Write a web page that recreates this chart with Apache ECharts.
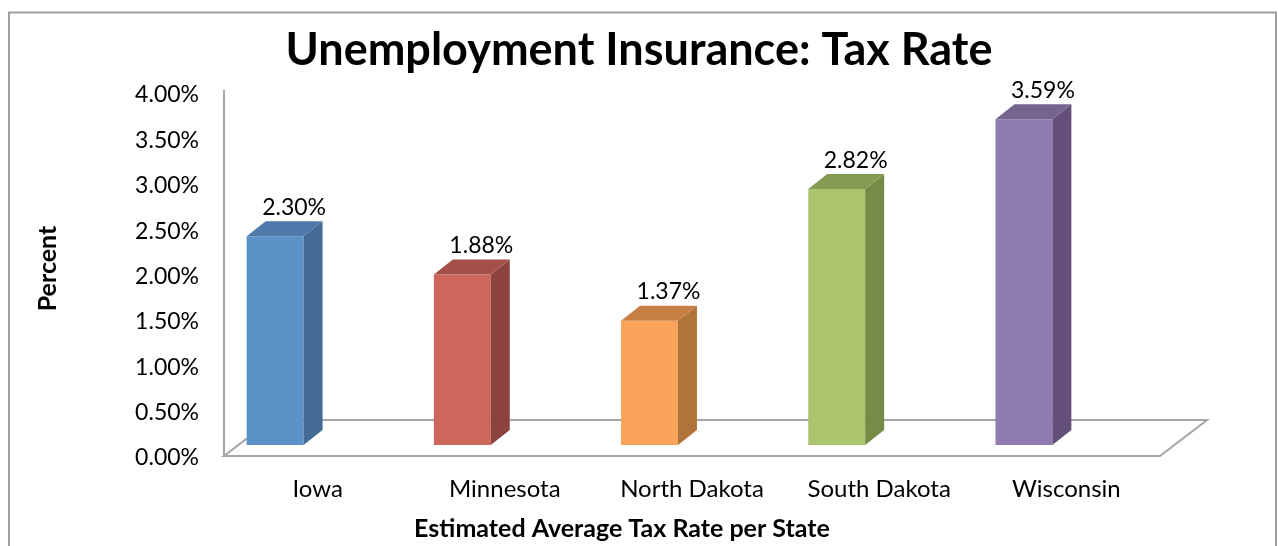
<!DOCTYPE html>
<html>
<head>
<meta charset="utf-8">
<style>
html,body{margin:0;padding:0;background:#fff;}
#chart{width:1278px;height:546px;}
</style>
<script src="https://cdn.jsdelivr.net/npm/echarts@6/dist/echarts.min.js"></script>
</head>
<body>
<div id="chart"></div>
<script>
const categories = ['Iowa', 'Minnesota', 'North Dakota', 'South Dakota', 'Wisconsin'];
const rates = [2.30, 1.88, 1.37, 2.82, 3.59];
const frontColors = ['#5b92c8', '#cd665c', '#f9a45a', '#aac56d', '#907bb0'];
const sideColors = ['#446a96', '#8d433d', '#b0743a', '#768b46', '#634f7a'];
const topColors = ['#4f79aa', '#a44f47', '#c87f44', '#869b52', '#75658e'];
const yMin = 0, yMax = 4, yStep = 0.5;

const FONT = 'Lato, "Open Sans", sans-serif';
const chart = echarts.init(document.getElementById('chart'));

function renderBar(params, api) {
  const i = api.value(0);
  const v = api.value(1);
  const band = api.size([1, 0])[0];
  const cx = api.coord([i, v])[0];
  const lift = 13;
  const yTop = api.coord([i, v])[1] - lift;
  const yBot = api.coord([i, 0])[1] - lift;
  const x0 = cx - band * 0.379;
  const x1 = cx - band * 0.075;
  const dx = 19, dy = -15;
  return {
    type: 'group',
    children: [
      { type: 'polygon', shape: { points: [[x0, yTop], [x1, yTop], [x1, yBot], [x0, yBot]] },
        style: { fill: frontColors[i] } },
      { type: 'polygon', shape: { points: [[x1, yTop], [x1 + dx, yTop + dy], [x1 + dx, yBot + dy], [x1, yBot]] },
        style: { fill: sideColors[i] } },
      { type: 'polygon', shape: { points: [[x0, yTop], [x0 + dx, yTop + dy], [x1 + dx, yTop + dy], [x1, yTop]] },
        style: { fill: topColors[i] } },
      { type: 'text', style: { x: (x0 + x1) / 2 + dx, y: yTop + dy - 14,
        text: v.toFixed(2) + '%', align: 'center', verticalAlign: 'middle',
        fill: '#000', font: '23px ' + FONT } }
    ]
  };
}

function renderFrame(params, api) {
  const cs = params.coordSys;
  const left = cs.x, right = cs.x + cs.width;
  const front = cs.y + cs.height - 2;
  const ddx = 47, ddy = -36;
  const st = { stroke: '#a6a6a6', lineWidth: 2, fill: null };
  return {
    type: 'group',
    children: [
      { type: 'polyline', shape: { points: [[left, cs.y - 5], [left, front]] }, style: st },
      { type: 'polygon', shape: { points: [[left, front], [right, front], [right + ddx, front + ddy], [left + ddx, front + ddy]] }, style: st }
    ]
  };
}

chart.setOption({
  animation: false,
  backgroundColor: '#fff',
  title: {
    text: 'Unemployment Insurance: Tax Rate',
    left: 'center',
    top: 23,
    textStyle: { fontFamily: FONT, fontWeight: 'bold', fontSize: 45, color: '#000' }
  },
  graphic: [
    { type: 'rect', shape: { x: 9, y: 12.5, width: 1267, height: 600 },
      style: { fill: null, stroke: '#a0a0a0', lineWidth: 2 }, z: -1 }
  ],
  grid: { left: 224, right: 118, top: 95, bottom: 88 },
  xAxis: {
    type: 'category',
    data: categories,
    axisLine: { show: false },
    axisTick: { show: false },
    axisLabel: { interval: 0, margin: 19, fontFamily: FONT, fontSize: 24, color: '#000' },
    name: 'Estimated Average Tax Rate per State',
    nameLocation: 'middle',
    nameGap: 58,
    nameTextStyle: { fontFamily: FONT, fontWeight: 'bold', fontSize: 25, color: '#000',
      padding: [0, 140, 0, 0] }
  },
  yAxis: {
    type: 'value',
    min: yMin, max: yMax, interval: yStep,
    axisLine: { show: false },
    axisTick: { show: false },
    splitLine: { show: false },
    axisLabel: { margin: 25, fontFamily: FONT, fontSize: 23, color: '#000',
      formatter: v => v.toFixed(2) + '%' },
    name: 'Percent',
    nameLocation: 'middle',
    nameGap: 164,
    nameRotate: 90,
    nameTextStyle: { fontFamily: FONT, fontWeight: 'bold', fontSize: 25, color: '#000',
      padding: [0, 0, 0, 16] }
  },
  series: [
    { type: 'custom', renderItem: renderFrame, data: [[0, 0]], z: 1, silent: true },
    { type: 'custom', renderItem: renderBar, data: rates.map((v, i) => [i, v]), z: 2 }
  ]
});
</script>
</body>
</html>
